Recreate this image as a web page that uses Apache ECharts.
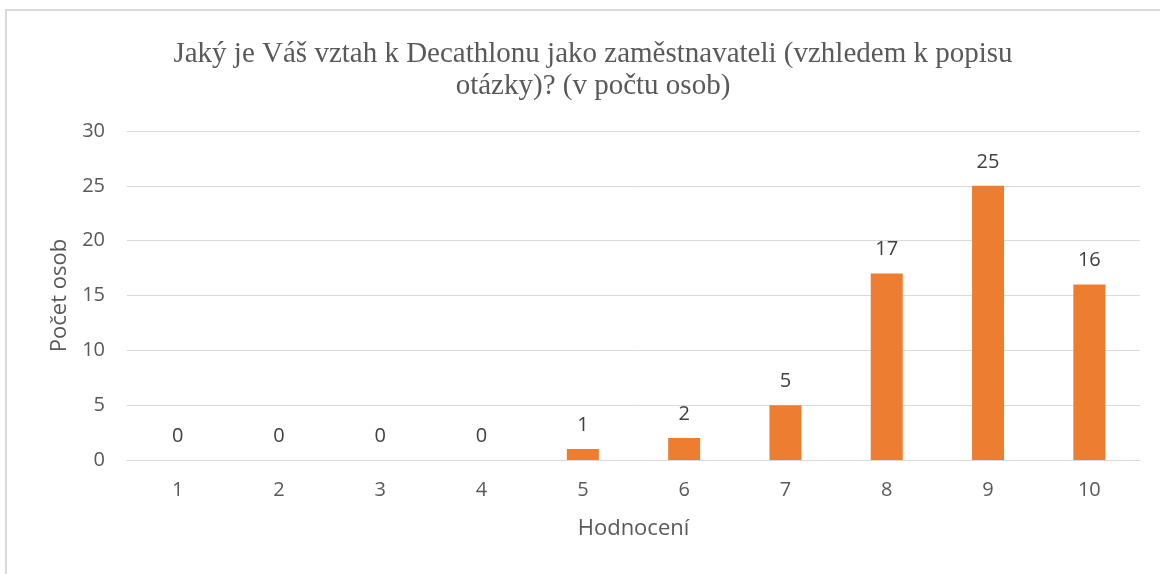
<!DOCTYPE html>
<html>
<head>
<meta charset="utf-8">
<script src="https://cdn.jsdelivr.net/npm/echarts@6/dist/echarts.min.js"></script>
<style>
  html, body { margin: 0; padding: 0; background: #fff; }
  #chart { position: absolute; left: 0; top: 0; width: 1160px; height: 574px; }
  #frame {
    position: absolute; left: 5px; top: 9px; right: -10px; bottom: -10px;
    border-left: 2px solid #d9d9d9; border-top: 2px solid #d9d9d9;
    pointer-events: none;
  }
</style>
</head>
<body>
<div id="chart"></div>
<div id="frame"></div>
<script>
const TITLE = "Jaký je Váš vztah k Decathlonu jako zaměstnavateli (vzhledem k popisu\notázky)? (v počtu osob)";
const categories = ["1", "2", "3", "4", "5", "6", "7", "8", "9", "10"];
const counts = [0, 0, 0, 0, 1, 2, 5, 17, 25, 16];
const yTicks = [0, 5, 10, 15, 20, 25, 30];

const ORANGE = "#ED7D31";
const TEXT = "#595959";
const SANS = '"Open Sans", "Noto Sans", "DejaVu Sans", sans-serif';
const SERIF = '"Liberation Serif", "DejaVu Serif", serif';

const chart = echarts.init(document.getElementById("chart"), null, { renderer: "canvas" });

chart.setOption({
  backgroundColor: "#fff",
  animation: false,
  title: {
    text: TITLE,
    left: 588,
    top: 33,
    textAlign: "center",
    textStyle: {
      fontFamily: SERIF,
      fontWeight: "normal",
      fontSize: 29,
      lineHeight: 32,
      color: TEXT,
    },
  },
  grid: { left: 127, right: 20, top: 131, bottom: 114 },
  xAxis: {
    type: "category",
    data: categories,
    name: "Hodnocení",
    nameLocation: "middle",
    nameGap: 58,
    nameTextStyle: { fontFamily: SANS, fontSize: 22, color: TEXT },
    axisLine: { show: true, lineStyle: { color: "#d9d9d9", width: 1 } },
    axisTick: { show: false },
    axisLabel: { fontFamily: SANS, fontSize: 20, color: TEXT, margin: 20 },
  },
  yAxis: {
    type: "value",
    min: yTicks[0],
    max: yTicks[yTicks.length - 1],
    interval: 5,
    name: "Počet osob",
    nameLocation: "middle",
    nameGap: 54,
    nameTextStyle: { fontFamily: SANS, fontSize: 22, color: TEXT },
    axisLine: { show: false },
    axisTick: { show: false },
    axisLabel: { fontFamily: SANS, fontSize: 20, color: TEXT, margin: 22 },
    splitLine: { lineStyle: { color: "#d9d9d9", width: 1 } },
  },
  series: [
    {
      type: "bar",
      data: counts,
      barWidth: 32,
      itemStyle: { color: ORANGE },
      label: {
        show: true,
        position: "top",
        distance: 14,
        fontFamily: SANS,
        fontSize: 20,
        color: "#404040",
      },
    },
  ],
});
</script>
</body>
</html>
